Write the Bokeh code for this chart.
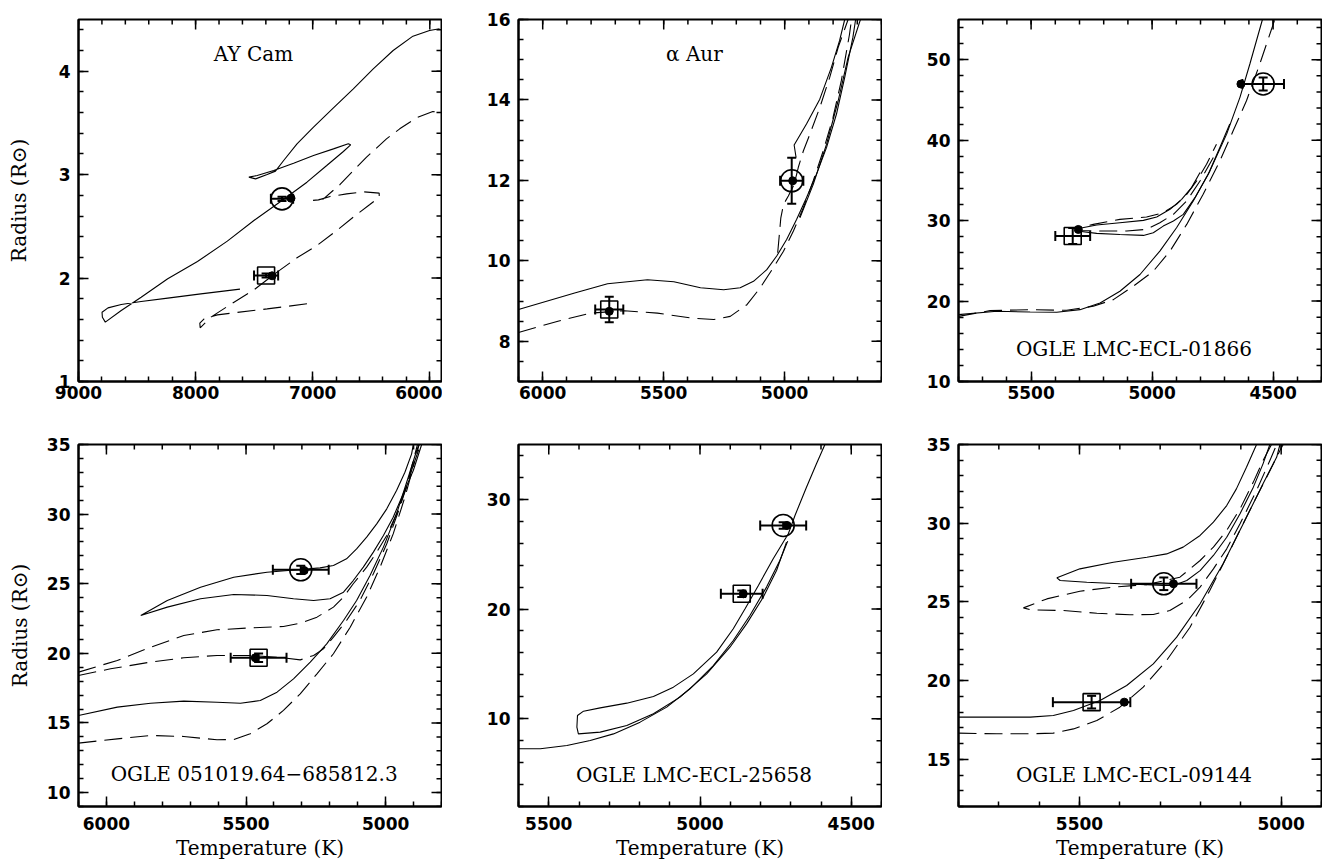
import numpy as np
from bokeh.plotting import figure
from bokeh.models import (Range1d, FixedTicker, LinearAxis, Label, Whisker, TeeHead,
                          ColumnDataSource, NumeralTickFormatter)
from bokeh.layouts import row, column
from bokeh.embed import file_html
from bokeh.resources import INLINE

# ---------------- Panel 1: AY Cam ----------------
aycam_solid_T = [7621, 7955, 8238, 8465, 8635, 8748, 8799, 8796, 8771, 8635, 8465, 8238, 7984, 7729, 7502,
                 7262, 7049, 6880, 6738, 6676, 6696, 6823, 6993, 7163, 7333, 7474, 7545, 7488, 7389, 7318,
                 7248, 7134, 6993, 6823, 6653, 6483, 6313, 6144, 6002, 5917]
aycam_solid_R = [1.893, 1.847, 1.806, 1.773, 1.744, 1.712, 1.670, 1.622, 1.574, 1.686, 1.815, 1.993, 2.160,
                 2.357, 2.557, 2.750, 2.927, 3.088, 3.224, 3.288, 3.298, 3.249, 3.185, 3.111, 3.040, 2.992,
                 2.976, 2.959, 3.001, 3.034, 3.137, 3.298, 3.459, 3.646, 3.830, 4.023, 4.200, 4.339, 4.394, 4.410]
aycam_dash_T = [7049, 7389, 7672, 7814, 7927, 7964, 7961, 7870, 7672, 7502, 7304, 7134, 6964, 6795, 6653,
                6512, 6432, 6432, 6568, 6710, 6851, 6950, 7007, 6908, 6766, 6653, 6540, 6370, 6257, 6115,
                5974, 5911]
aycam_dash_R = [1.751, 1.702, 1.664, 1.644, 1.606, 1.564, 1.519, 1.622, 1.767, 1.886, 2.057, 2.196, 2.315,
                2.460, 2.589, 2.711, 2.782, 2.821, 2.834, 2.814, 2.789, 2.756, 2.750, 2.766, 2.905, 3.040,
                3.169, 3.346, 3.443, 3.549, 3.610, 3.601]
aycam_obs_T = [7262, 7398]          # circle (primary), square (secondary)
aycam_obs_R = [2.766, 2.025]
aycam_obs_Terr = [95, 103]
aycam_obs_Rerr = [0.02, 0.02]
aycam_mod_T = [7185, 7347]
aycam_mod_R = [2.772, 2.022]
aycam_xticks = [9000, 8000, 7000, 6000]
aycam_yticks = [1, 2, 3, 4]

# ---------------- Panel 2: alpha Aur ----------------
aur_s1_T = [6100, 5868, 5732, 5567, 5458, 5348, 5252, 5184, 5129, 5074, 5033, 4992, 4951, 4910, 4869, 4827,
            4786, 4752, 4718, 4707]
aur_s1_R = [8.79, 9.20, 9.43, 9.53, 9.48, 9.33, 9.28, 9.33, 9.49, 9.78, 10.12, 10.53, 11.03, 11.57, 12.15,
            12.82, 13.65, 14.56, 15.56, 16.0]
aur_s2_T = [4937, 4882, 4827, 4779, 4738, 4687]
aur_s2_R = [11.07, 11.90, 12.90, 13.98, 15.06, 16.0]
aur_s3_T = [4953, 4961, 4910, 4855, 4807, 4773, 4752]
aur_s3_R = [12.57, 12.88, 13.40, 14.02, 14.81, 15.48, 16.0]
aur_d1_T = [6100, 5937, 5800, 5663, 5526, 5389, 5293, 5225, 5156, 5101, 5047, 5005, 4964, 4923, 4882, 4841,
            4800, 4766, 4732, 4724]
aur_d1_R = [8.22, 8.50, 8.70, 8.76, 8.70, 8.58, 8.54, 8.62, 8.91, 9.33, 9.83, 10.24, 10.74, 11.32, 11.99,
            12.73, 13.57, 14.48, 15.64, 16.0]
aur_d2_T = [5029, 5022, 5016, 5005, 4985, 4961, 4944, 4923, 4896, 4855, 4814, 4779, 4738]
aur_d2_R = [10.20, 10.66, 11.07, 11.40, 11.61, 11.90, 12.32, 12.73, 13.15, 13.81, 14.56, 15.31, 16.0]
aur_obs_T = [4971, 5725]
aur_obs_R = [11.99, 8.79]
aur_obs_Terr = [48, 58]
aur_obs_Rerr = [0.57, 0.32]
aur_mod_T = [4967, 5725]
aur_mod_R = [11.99, 8.745]
aur_xticks = [6000, 5500, 5000]
aur_yticks = [8, 10, 12, 14, 16]

# ---------------- Panel 3: OGLE LMC-ECL-01866 ----------------
e01866_s1_T = [5800, 5642, 5504, 5394, 5298, 5215, 5133, 5050, 4968, 4899, 4830, 4761, 4692, 4637, 4596, 4544]
e01866_s1_R = [18.31, 18.73, 18.64, 18.60, 18.93, 19.77, 21.22, 23.30, 26.21, 29.11, 32.44, 36.18, 40.75,
               45.32, 49.47, 55.0]
e01866_d1_T = [5800, 5669, 5504, 5353, 5243, 5160, 5078, 4995, 4926, 4857, 4789, 4720, 4665, 4610, 4555, 4493]
e01866_d1_R = [18.10, 18.81, 18.93, 18.85, 19.35, 20.18, 21.84, 23.71, 26.21, 29.53, 33.27, 37.42, 41.16,
               44.90, 49.47, 55.0]
e01866_s2_T = [4679, 4720, 4768, 4823, 4871, 4912, 4954, 4995, 5036, 5133, 5229, 5309, 5309, 5229, 5133, 5036,
               4981, 4926, 4878, 4837, 4802]
e01866_s2_R = [42.0, 39.09, 35.76, 32.85, 30.78, 29.95, 29.32, 28.49, 28.16, 28.28, 28.41, 28.70, 28.99,
               29.45, 29.74, 30.03, 30.44, 31.40, 32.65, 34.10, 35.97]
e01866_d2_T = [4747, 4802, 4857, 4912, 4968, 5023, 5105, 5215, 5298, 5305, 5243, 5133, 5023, 4954, 4899, 4857,
               4816, 4775, 4734]
e01866_d2_R = [37.84, 34.93, 32.44, 30.78, 29.74, 28.91, 28.70, 28.70, 28.78, 29.11, 29.53, 30.15, 30.44,
               30.98, 32.02, 33.27, 34.93, 37.01, 39.50]
e01866_obs_T = [4541, 5328]
e01866_obs_R = [46.98, 28.08]
e01866_obs_Terr = [86, 72]
e01866_obs_Rerr = [0.8, 1.0]
e01866_mod_T = [4633, 5305]
e01866_mod_R = [46.98, 28.9]
e01866_xticks = [5500, 5000, 4500]
e01866_yticks = [10, 20, 30, 40, 50]

# ---------------- Panel 4: OGLE 051019.64-685812.3 ----------------
o0510_s1_T = [4901, 4907, 4931, 4961, 4996, 5032, 5068, 5104, 5140, 5187, 5235, 5306, 5425, 5544, 5663, 5782,
              5877, 5782, 5663, 5544, 5425, 5330, 5258, 5199, 5151, 5116, 5080, 5044, 5008, 4973, 4937,
              4901, 4871]
o0510_s1_R = [35.0, 34.33, 33.01, 31.70, 30.38, 29.30, 28.35, 27.50, 26.79, 26.31, 26.14, 26.02, 25.83, 25.47,
              24.75, 23.80, 22.72, 23.32, 23.92, 24.23, 24.16, 23.92, 23.80, 23.92, 24.39, 25.23, 26.19,
              27.27, 28.46, 29.78, 31.46, 33.13, 35.0]
o0510_s2_T = [6100, 5961, 5842, 5723, 5604, 5520, 5449, 5389, 5330, 5270, 5211, 5151, 5104, 5056, 5008, 4961,
              4919, 4889, 4880]
o0510_s2_R = [15.54, 16.14, 16.42, 16.57, 16.49, 16.42, 16.61, 17.21, 18.17, 19.37, 20.68, 22.36, 23.80,
              25.59, 27.63, 30.02, 32.65, 34.57, 35.0]
o0510_d1_T = [6100, 5961, 5842, 5723, 5604, 5485, 5366, 5306, 5246, 5187, 5151, 5116, 5068, 5032, 4996, 4961,
              4925, 4895, 4886]
o0510_d1_R = [18.65, 19.49, 20.44, 21.28, 21.69, 21.83, 21.93, 22.17, 22.60, 23.32, 24.04, 25.00, 26.19,
              27.27, 28.46, 30.02, 31.94, 34.33, 35.0]
o0510_d2_T = [6100, 5985, 5842, 5723, 5604, 5485, 5366, 5306, 5258, 5223, 5187, 5140, 5092, 5044, 4996, 4949,
              4907, 4880]
o0510_d2_R = [18.41, 18.89, 19.37, 19.68, 19.85, 19.85, 19.68, 19.53, 19.85, 20.32, 21.16, 22.36, 23.80,
              25.71, 27.87, 30.50, 33.13, 35.0]
o0510_d3_T = [6100, 5961, 5842, 5723, 5604, 5544, 5485, 5425, 5366, 5306, 5246, 5187, 5127, 5068, 5020, 4973,
              4931, 4895, 4875]
o0510_d3_R = [13.55, 13.86, 14.10, 14.03, 13.79, 13.81, 14.22, 14.94, 15.90, 17.09, 18.53, 19.97, 21.88,
              24.04, 26.19, 28.58, 31.22, 33.85, 35.0]
o0510_obs_T = [5304, 5455]
o0510_obs_R = [26.0, 19.68]
o0510_obs_Terr = [100, 100]
o0510_obs_Rerr = [0.3, 0.3]
o0510_mod_T = [5292, 5467]
o0510_mod_R = [25.95, 19.68]
o0510_xticks = [6000, 5500, 5000]
o0510_yticks = [10, 15, 20, 25, 30, 35]

# ---------------- Panel 5: OGLE LMC-ECL-25658 ----------------
e25658_s1_T = [5600, 5528, 5440, 5363, 5286, 5198, 5110, 5033, 4956, 4890, 4835, 4780, 4736, 4710]
e25658_s1_R = [7.26, 7.26, 7.56, 8.02, 8.62, 9.69, 11.06, 12.73, 14.85, 17.13, 19.41, 22.00, 24.43, 26.19]
e25658_s2_T = [4714, 4747, 4791, 4846, 4901, 4978, 5066, 5154, 5242, 5330, 5402, 5407, 5405, 5385, 5330,
               5242, 5154, 5088, 5022, 4945, 4890, 4851, 4807, 4758, 4708, 4686, 4648, 4615, 4587]
e25658_s2_R = [26.10, 23.51, 21.08, 18.65, 16.52, 14.09, 11.97, 10.45, 9.38, 8.78, 8.62, 9.23, 10.30, 10.69,
               10.99, 11.42, 12.03, 12.88, 14.09, 16.07, 18.20, 20.02, 22.15, 24.58, 26.86, 28.53, 31.11,
               33.24, 35.0]
e25658_obs_T = [4725, 4862]
e25658_obs_R = [27.62, 21.39]
e25658_obs_Terr = [76, 69]
e25658_obs_Rerr = [0.3, 0.3]
e25658_mod_T = [4712, 4857]
e25658_mod_R = [27.62, 21.39]
e25658_xticks = [5500, 5000, 4500]
e25658_yticks = [10, 20, 30]

# ---------------- Panel 6: OGLE LMC-ECL-09144 ----------------
e09144_s1_T = [5061, 5086, 5111, 5135, 5168, 5201, 5243, 5284, 5333, 5416, 5499, 5556, 5548, 5482, 5400,
               5333, 5292, 5267, 5234, 5201, 5168, 5135, 5102, 5069, 5045, 5028]
e09144_s1_R = [35.0, 33.56, 32.18, 31.12, 30.07, 29.22, 28.48, 28.05, 27.84, 27.52, 27.10, 26.53, 26.36,
               26.25, 26.15, 26.10, 26.04, 26.04, 26.36, 26.99, 27.95, 29.11, 30.60, 32.29, 33.77, 35.0]
e09144_s2_T = [5800, 5705, 5622, 5565, 5515, 5449, 5383, 5317, 5259, 5201, 5144, 5094, 5045, 5011, 5003]
e09144_s2_R = [17.68, 17.68, 17.68, 17.78, 18.10, 18.73, 19.69, 21.06, 22.76, 24.88, 27.42, 29.96, 32.50,
               34.20, 35.0]
e09144_d1_T = [5024, 5045, 5069, 5102, 5135, 5168, 5201, 5251, 5333, 5416, 5499, 5581, 5639, 5622, 5540,
               5457, 5375, 5317, 5276, 5234, 5201, 5168, 5135, 5102, 5061, 5028, 5011]
e09144_d1_R = [35.0, 33.98, 32.61, 30.91, 29.54, 28.48, 27.63, 26.57, 26.10, 25.94, 25.68, 25.19, 24.62,
               24.50, 24.45, 24.28, 24.18, 24.20, 24.45, 25.09, 25.94, 27.10, 28.37, 29.96, 32.08, 33.98, 35.0]
e09144_d2_T = [5800, 5705, 5622, 5565, 5515, 5457, 5400, 5342, 5284, 5226, 5177, 5127, 5078, 5036, 5003, 4995]
e09144_d2_R = [16.66, 16.62, 16.62, 16.66, 16.93, 17.46, 18.31, 19.58, 21.28, 23.39, 25.72, 28.27, 30.81,
               32.92, 34.62, 35.0]
e09144_obs_T = [5291, 5470]
e09144_obs_R = [26.15, 18.63]
e09144_obs_Terr = [81, 96]
e09144_obs_Rerr = [0.4, 0.4]
e09144_mod_T = [5267, 5389]
e09144_mod_R = [26.15, 18.63]
e09144_xticks = [5500, 5000]
e09144_yticks = [15, 20, 25, 30, 35]

SOLID = "solid"
DASH = "18 8"

panels = [
    dict(name="AY Cam", xr=(9000, 5900), yr=(1, 4.5), xt=aycam_xticks, xm=200, yt=aycam_yticks, ym=0.2,
         tracks=[(aycam_solid_T, aycam_solid_R, SOLID), (aycam_dash_T, aycam_dash_R, DASH)],
         obs=(aycam_obs_T, aycam_obs_R, aycam_obs_Terr, aycam_obs_Rerr), mod=(aycam_mod_T, aycam_mod_R),
         lab=(7505, 4.17)),
    dict(name="\u03b1 Aur", xr=(6100, 4600), yr=(7, 16), xt=aur_xticks, xm=100, yt=aur_yticks, ym=0.5,
         tracks=[(aur_s1_T, aur_s1_R, SOLID), (aur_s2_T, aur_s2_R, SOLID), (aur_s3_T, aur_s3_R, SOLID),
                 (aur_d1_T, aur_d1_R, DASH), (aur_d2_T, aur_d2_R, DASH)],
         obs=(aur_obs_T, aur_obs_R, aur_obs_Terr, aur_obs_Rerr), mod=(aur_mod_T, aur_mod_R),
         lab=(5373, 15.15)),
    dict(name="OGLE LMC-ECL-01866", xr=(5800, 4300), yr=(10, 55), xt=e01866_xticks, xm=100, yt=e01866_yticks, ym=2,
         tracks=[(e01866_s1_T, e01866_s1_R, SOLID), (e01866_d1_T, e01866_d1_R, DASH),
                 (e01866_s2_T, e01866_s2_R, SOLID), (e01866_d2_T, e01866_d2_R, DASH)],
         obs=(e01866_obs_T, e01866_obs_R, e01866_obs_Terr, e01866_obs_Rerr), mod=(e01866_mod_T, e01866_mod_R),
         lab=(5075, 14.0)),
    dict(name="OGLE 051019.64\u2212685812.3", xr=(6100, 4800), yr=(9, 35), xt=o0510_xticks, xm=100, yt=o0510_yticks, ym=1,
         tracks=[(o0510_s1_T, o0510_s1_R, SOLID), (o0510_s2_T, o0510_s2_R, SOLID), (o0510_d1_T, o0510_d1_R, DASH),
                 (o0510_d2_T, o0510_d2_R, DASH), (o0510_d3_T, o0510_d3_R, DASH)],
         obs=(o0510_obs_T, o0510_obs_R, o0510_obs_Terr, o0510_obs_Rerr), mod=(o0510_mod_T, o0510_mod_R),
         lab=(5471, 11.37)),
    dict(name="OGLE LMC-ECL-25658", xr=(5600, 4400), yr=(2, 35), xt=e25658_xticks, xm=100, yt=e25658_yticks, ym=2,
         tracks=[(e25658_s1_T, e25658_s1_R, SOLID), (e25658_s2_T, e25658_s2_R, SOLID)],
         obs=(e25658_obs_T, e25658_obs_R, e25658_obs_Terr, e25658_obs_Rerr), mod=(e25658_mod_T, e25658_mod_R),
         lab=(5020, 4.83)),
    dict(name="OGLE LMC-ECL-09144", xr=(5800, 4900), yr=(12, 35), xt=e09144_xticks, xm=100, yt=e09144_yticks, ym=1,
         tracks=[(e09144_s1_T, e09144_s1_R, SOLID), (e09144_s2_T, e09144_s2_R, SOLID), (e09144_d1_T, e09144_d1_R, DASH),
                 (e09144_d2_T, e09144_d2_R, DASH)],
         obs=(e09144_obs_T, e09144_obs_R, e09144_obs_Terr, e09144_obs_Rerr), mod=(e09144_mod_T, e09144_mod_R),
         lab=(5365, 13.97)),
]

TICK_FONT = "DejaVu Sans"
TICK_SIZE = "17px"
TEXT_FONT = "DejaVu Serif"
TEXT_SIZE = "20px"


def style_axis(ax, standoff):
    ax.axis_line_width = 2
    ax.axis_line_color = "black"
    ax.major_tick_in = 10
    ax.major_tick_out = 0
    ax.minor_tick_in = 5
    ax.minor_tick_out = 0
    ax.major_tick_line_width = 1.5
    ax.minor_tick_line_width = 1.5
    ax.major_tick_line_color = "black"
    ax.minor_tick_line_color = "black"
    ax.formatter = NumeralTickFormatter(format="0")
    ax.major_label_text_font = TICK_FONT
    ax.major_label_text_font_size = TICK_SIZE
    ax.major_label_text_font_style = "bold"
    ax.major_label_text_color = "black"
    ax.major_label_standoff = standoff


def make_panel(pan, width, height, mbl, mbr, mbt, mbb, xstand, xlabel, xlab_stand, ylabel, ylab_stand):
    p = figure(width=width, height=height,
               x_range=Range1d(*pan["xr"]), y_range=Range1d(*pan["yr"]),
               x_axis_type=None, y_axis_type=None,
               output_backend="svg", toolbar_location=None,
               min_border_left=mbl, min_border_right=mbr, min_border_top=mbt, min_border_bottom=mbb,
               background_fill_color="white", border_fill_color="white")
    p.outline_line_color = "black"
    p.outline_line_width = 2

    lo, hi = min(pan["xr"]), max(pan["xr"])
    xminor = [float(v) for v in np.arange(np.ceil(lo / pan["xm"]) * pan["xm"], hi + 1e-9, pan["xm"])]
    lo, hi = min(pan["yr"]), max(pan["yr"])
    yminor = [float(v) for v in np.round(np.arange(np.ceil(lo / pan["ym"] - 1e-9) * pan["ym"], hi + 1e-9, pan["ym"]), 4)]
    xt = FixedTicker(ticks=pan["xt"], minor_ticks=xminor)
    yt = FixedTicker(ticks=pan["yt"], minor_ticks=yminor)

    bottom = LinearAxis(ticker=xt)
    style_axis(bottom, xstand)
    if xlabel:
        bottom.axis_label = xlabel
        bottom.axis_label_text_font = TEXT_FONT
        bottom.axis_label_text_font_size = TEXT_SIZE
        bottom.axis_label_text_font_style = "normal"
        bottom.axis_label_text_color = "black"
        bottom.axis_label_standoff = xlab_stand
    p.add_layout(bottom, "below")

    left = LinearAxis(ticker=yt)
    style_axis(left, 8)
    if ylabel:
        left.axis_label = ylabel
        left.axis_label_text_font = TEXT_FONT
        left.axis_label_text_font_size = TEXT_SIZE
        left.axis_label_text_font_style = "normal"
        left.axis_label_text_color = "black"
        left.axis_label_standoff = ylab_stand
    p.add_layout(left, "left")

    # mirrored inward ticks on top and right edges (half of each dash is clipped by the frame)
    x_top, y_right = pan["yr"][1], pan["xr"][1]
    p.scatter(pan["xt"], [x_top] * len(pan["xt"]), marker="dash", angle=np.pi / 2, size=20,
              line_color="black", line_width=1.5)
    p.scatter(xminor, [x_top] * len(xminor), marker="dash", angle=np.pi / 2, size=10,
              line_color="black", line_width=1.5)
    p.scatter([y_right] * len(pan["yt"]), pan["yt"], marker="dash", size=20,
              line_color="black", line_width=1.5)
    p.scatter([y_right] * len(yminor), yminor, marker="dash", size=10,
              line_color="black", line_width=1.5)

    for T, R, dash in pan["tracks"]:
        p.line(T, R, line_color="black", line_width=1.1, line_dash=dash)

    oT, oR, oTe, oRe = pan["obs"]
    p.scatter([oT[0]], [oR[0]], marker="circle", size=22, fill_color=None, line_color="black", line_width=1.6)
    p.scatter([oT[1]], [oR[1]], marker="square", size=17, fill_color=None, line_color="black", line_width=1.6)

    src = ColumnDataSource(dict(T=oT, R=oR,
                                tlo=[t - e for t, e in zip(oT, oTe)], thi=[t + e for t, e in zip(oT, oTe)],
                                rlo=[r - e for r, e in zip(oR, oRe)], rhi=[r + e for r, e in zip(oR, oRe)]))
    p.add_layout(Whisker(source=src, base="R", lower="tlo", upper="thi", dimension="width",
                         line_color="black", line_width=2,
                         upper_head=TeeHead(size=10, line_width=2, line_color="black"),
                         lower_head=TeeHead(size=10, line_width=2, line_color="black")))
    p.add_layout(Whisker(source=src, base="T", lower="rlo", upper="rhi", dimension="height",
                         line_color="black", line_width=2,
                         upper_head=TeeHead(size=9, line_width=2, line_color="black"),
                         lower_head=TeeHead(size=9, line_width=2, line_color="black")))

    mT, mR = pan["mod"]
    p.scatter(mT, mR, marker="circle", size=8, fill_color="black", line_color="black")

    p.add_layout(Label(x=pan["lab"][0], y=pan["lab"][1], text=pan["name"], text_align="center",
                       text_baseline="middle", text_font=TEXT_FONT, text_font_size=TEXT_SIZE,
                       text_color="black"))
    return p


widths = [442, 440, 440]
mbl = [78, 76, 76]
figs_top = []
figs_bot = []
for i in range(3):
    figs_top.append(make_panel(panels[i], widths[i], 431, mbl[i], 1, 19, 50, 4, None, 0,
                               "Radius (R\u2299)" if i == 0 else None, 25))
for i in range(3):
    figs_bot.append(make_panel(panels[3 + i], widths[i], 433, mbl[i], 1, 13, 58, 10, "Temperature (K)", 3,
                               "Radius (R\u2299)" if i == 0 else None, 12))

layout = column(row(*figs_top), row(*figs_bot))

open("out.html", "w").write(file_html(layout, INLINE))
